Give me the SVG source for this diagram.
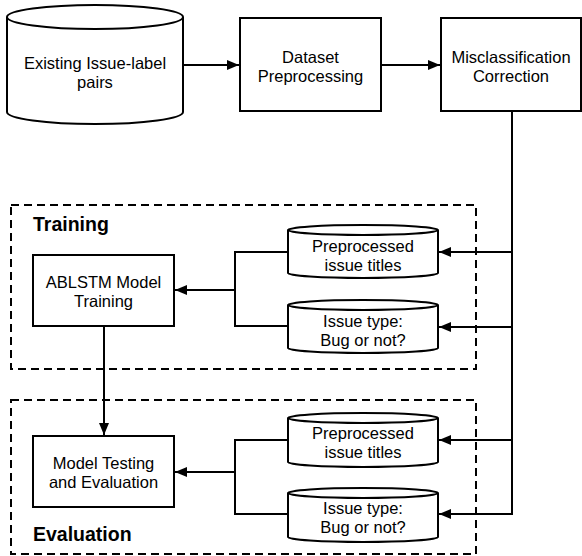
<svg xmlns="http://www.w3.org/2000/svg" width="582" height="556" viewBox="0 0 582 556">
<style>
.s{fill:#fff;stroke:#000;stroke-width:2}
.d{fill:none;stroke:#000;stroke-width:2;stroke-dasharray:8 5}
.c{fill:none;stroke:#000;stroke-width:2}
.t{font-family:"Liberation Sans",Arial,sans-serif;font-size:16.5px;fill:#000;text-anchor:middle}
.b{font-family:"Liberation Sans",Arial,sans-serif;font-size:19.5px;font-weight:bold;fill:#000}
</style>
<defs>
<marker id="ah" markerUnits="userSpaceOnUse" markerWidth="13" markerHeight="11" refX="12" refY="5" orient="auto">
<path d="M0,0 L12,5 L0,10 Z" fill="#000"/>
</marker>
</defs>
<rect width="582" height="556" fill="#fff"/>
<g id="training-group">
<rect class="d" x="11" y="205" width="465" height="164"/>
<text class="b" x="33" y="231">Training</text>
</g>
<g id="evaluation-group">
<rect class="d" x="11" y="400" width="465" height="154"/>
<text class="b" x="33" y="541">Evaluation</text>
</g>
<g id="connectors">
<path class="c" d="M183,65 H239" marker-end="url(#ah)"/>
<path class="c" d="M381,65 H440" marker-end="url(#ah)"/>
<path class="c" d="M512,111 V514"/>
<path class="c" d="M512,252 H439" marker-end="url(#ah)"/>
<path class="c" d="M512,327 H439" marker-end="url(#ah)"/>
<path class="c" d="M512,440 H439" marker-end="url(#ah)"/>
<path class="c" d="M513,514 H439" marker-end="url(#ah)"/>
<path class="c" d="M288,252 H235 V326 H288"/>
<path class="c" d="M235,290 H175" marker-end="url(#ah)"/>
<path class="c" d="M288,440 H235 V514 H288"/>
<path class="c" d="M235,472 H175" marker-end="url(#ah)"/>
<path class="c" d="M104,326 V435" marker-end="url(#ah)"/>
</g>
<g id="existing-pairs">
<path class="s" d="M7,17 V112 A88,12 0 0 0 183,112 V17"/>
<ellipse class="s" cx="95" cy="17" rx="88" ry="12"/>
<text class="t" x="95" y="69">Existing Issue-label</text>
<text class="t" x="95" y="88">pairs</text>
</g>
<g id="dataset-preprocessing">
<rect class="s" x="240" y="18" width="141" height="93"/>
<text class="t" x="310.5" y="63">Dataset</text>
<text class="t" x="310.5" y="82">Preprocessing</text>
</g>
<g id="misclassification-correction">
<rect class="s" x="441" y="18" width="140" height="93"/>
<text class="t" x="511" y="63">Misclassification</text>
<text class="t" x="511" y="82">Correction</text>
</g>
<g id="ablstm-training">
<rect class="s" x="33" y="255" width="141" height="71"/>
<text class="t" x="103.5" y="288">ABLSTM Model</text>
<text class="t" x="103.5" y="307">Training</text>
</g>
<g id="train-titles">
<path class="s" d="M288,230 V273 A75,5 0 0 0 438,273 V230"/>
<ellipse class="s" cx="363" cy="230" rx="75" ry="5"/>
<text class="t" x="363" y="252">Preprocessed</text>
<text class="t" x="363" y="271">issue titles</text>
</g>
<g id="train-type">
<path class="s" d="M288,305 V348 A75,5 0 0 0 438,348 V305"/>
<ellipse class="s" cx="363" cy="305" rx="75" ry="5"/>
<text class="t" x="363" y="327">Issue type:</text>
<text class="t" x="363" y="346">Bug or not?</text>
</g>
<g id="model-testing">
<rect class="s" x="33" y="436" width="141" height="71"/>
<text class="t" x="103.5" y="469">Model Testing</text>
<text class="t" x="103.5" y="488">and Evaluation</text>
</g>
<g id="eval-titles">
<path class="s" d="M288,418 V462 A75,5 0 0 0 438,462 V418"/>
<ellipse class="s" cx="363" cy="418" rx="75" ry="5"/>
<text class="t" x="363" y="439">Preprocessed</text>
<text class="t" x="363" y="458">issue titles</text>
</g>
<g id="eval-type">
<path class="s" d="M288,493 V537 A75,5 0 0 0 438,537 V493"/>
<ellipse class="s" cx="363" cy="493" rx="75" ry="5"/>
<text class="t" x="363" y="514">Issue type:</text>
<text class="t" x="363" y="533">Bug or not?</text>
</g>
</svg>
